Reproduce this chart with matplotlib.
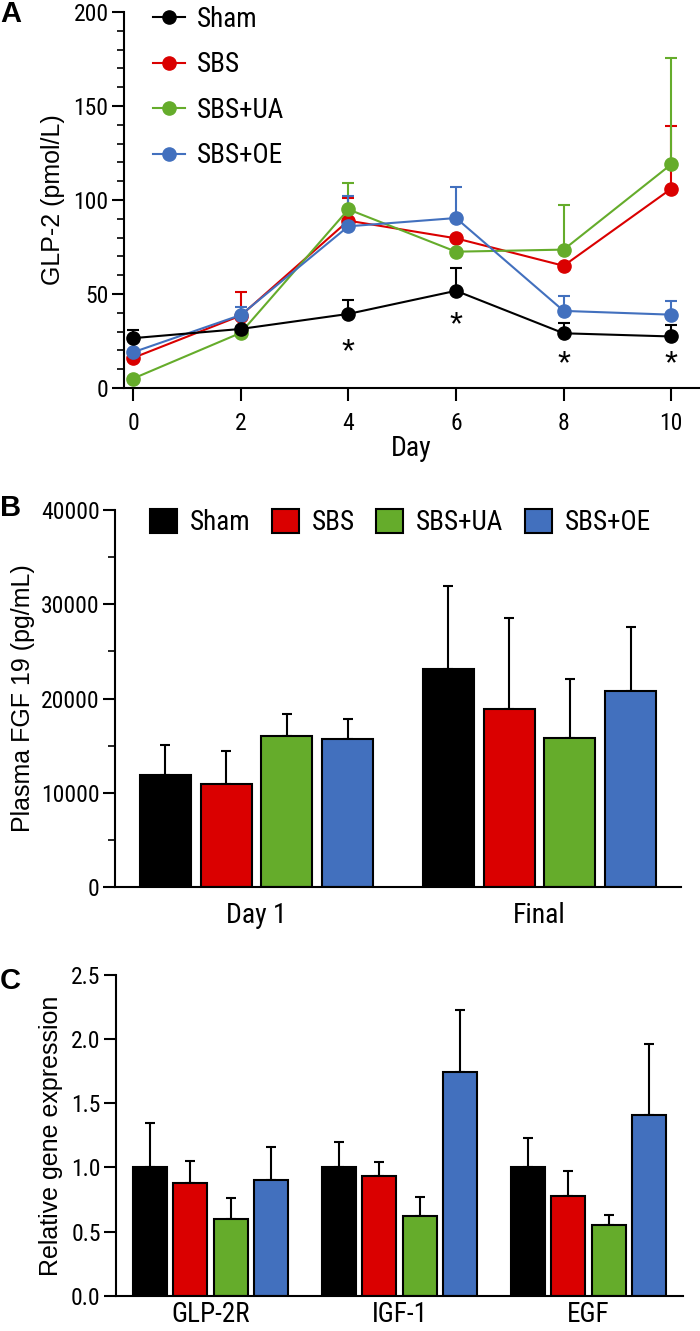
import matplotlib
matplotlib.use("Agg")
import matplotlib.pyplot as plt
import matplotlib.transforms as mtransforms
import numpy as np
from matplotlib.ticker import MultipleLocator, FormatStrFormatter

# ---- data ----
groups = ["Sham", "SBS", "SBS+UA", "SBS+OE"]
colors = ["#000000", "#DA0000", "#65AC2B", "#4270BE"]

days = [0, 2, 4, 6, 8, 10]
glp2_mean = {
    "Sham":   [26.5, 31.4, 39.4, 51.7, 29.1, 27.4],
    "SBS":    [16.0, 38.5, 89.0, 79.6, 65.0, 106.0],
    "SBS+UA": [5.0, 29.3, 95.0, 72.5, 73.6, 119.0],
    "SBS+OE": [19.0, 38.8, 86.0, 90.4, 41.0, 39.0],
}
glp2_err = {
    "Sham":   [4.4, 0.0, 7.6, 12.3, 5.7, 6.1],
    "SBS":    [0.0, 12.3, 12.0, 0.0, 0.0, 33.6],
    "SBS+UA": [0.0, 0.0, 14.0, 0.0, 23.7, 56.3],
    "SBS+OE": [0.0, 4.1, 16.0, 16.6, 8.0, 7.4],
}
sig_days = [4, 6, 8, 10]
sig_y = [24.5, 38.8, 18.0, 18.0]

fgf_labels = ["Day 1", "Final"]
fgf_mean = {
    "Sham":   [11860, 23150],
    "SBS":    [10970, 18870],
    "SBS+UA": [16000, 15790],
    "SBS+OE": [15720, 20780],
}
fgf_err = {
    "Sham":   [3180, 8820],
    "SBS":    [3470, 9630],
    "SBS+UA": [2400, 6330],
    "SBS+OE": [2120, 6760],
}

gene_labels = ["GLP-2R", "IGF-1", "EGF"]
gene_mean = {
    "Sham":   [1.00, 1.00, 1.00],
    "SBS":    [0.88, 0.93, 0.78],
    "SBS+UA": [0.60, 0.62, 0.55],
    "SBS+OE": [0.90, 1.74, 1.41],
}
gene_err = {
    "Sham":   [0.35, 0.20, 0.23],
    "SBS":    [0.17, 0.11, 0.19],
    "SBS+UA": [0.16, 0.15, 0.08],
    "SBS+OE": [0.26, 0.49, 0.55],
}

NARROW = ["Roboto Condensed", "DejaVu Sans"]
ARIAL = ["Liberation Sans", "DejaVu Sans"]
plt.rcParams["font.family"] = NARROW
plt.rcParams["axes.linewidth"] = 1.5

fig = plt.figure(figsize=(7.0, 13.31), dpi=100)


def style_axes(ax):
    for s in ("top", "right"):
        ax.spines[s].set_visible(False)
    ax.tick_params(axis="y", which="major", direction="out", length=9, width=1.5,
                   pad=2, labelsize=17)
    ax.tick_params(axis="y", which="minor", direction="out", length=5, width=1.2)


# ---- panel A ----
axA = fig.add_axes([0.177, 0.7085, 0.822, 0.2825])
for g, c in zip(groups[1:] + groups[:1], colors[1:] + colors[:1]):
    m = np.array(glp2_mean[g])
    e = np.array(glp2_err[g])
    axA.errorbar(days, m, yerr=[np.zeros_like(e), e], color=c, lw=1.5,
                 marker="o", ms=9.5, capsize=4, elinewidth=1.5, capthick=1.5,
                 label=g, zorder=3)
star_tr = mtransforms.offset_copy(axA.transData, fig=fig, x=0, y=-14, units="points")
for d, yv in zip(sig_days, sig_y):
    axA.text(d, yv, "*", ha="center", va="baseline", fontsize=24, family=ARIAL,
             transform=star_tr)
axA.set_xlim(-0.17, 10.52)
axA.set_ylim(0, 200)
axA.set_xticks(days)
axA.yaxis.set_major_locator(MultipleLocator(50))
axA.yaxis.set_minor_locator(MultipleLocator(10))
style_axes(axA)
axA.tick_params(axis="x", direction="out", length=9, width=1.5, pad=8, labelsize=17)
axA.set_xlabel("Day", fontsize=20, labelpad=0)
axA.set_ylabel("GLP-2 (pmol/L)", fontsize=18, family=ARIAL, labelpad=6)
handles, labels = axA.get_legend_handles_labels()
order = [labels.index(g) for g in groups]
axA.legend([handles[i][0] for i in order], [labels[i] for i in order],
           loc="upper left", bbox_to_anchor=(0.05, 1.016), frameon=False,
           borderpad=0, borderaxespad=0,
           fontsize=19.5, handlelength=1.2, handletextpad=0.45, labelspacing=0.68)

# ---- bar helper ----
width = 0.18
step = 0.2145


def bar_panel(ax, labels_, means, errs):
    x = np.arange(len(labels_))
    for i, (g, c) in enumerate(zip(groups, colors)):
        xs = x + (i - 1.5) * step
        ax.bar(xs, means[g], width, color=c, edgecolor="black", linewidth=1.5,
               label=g, zorder=2)
        ax.errorbar(xs, means[g], yerr=[np.zeros(len(x)), errs[g]], fmt="none",
                    ecolor="black", elinewidth=1.5, capsize=3.5, capthick=1.5, zorder=1)
    ax.set_xlim(-0.5, len(labels_) - 0.5)
    ax.set_xticks(x)
    ax.set_xticklabels(labels_)


# ---- panel B ----
axB = fig.add_axes([0.1643, 0.3336, 0.8086, 0.2832])
bar_panel(axB, fgf_labels, fgf_mean, fgf_err)
axB.set_ylim(0, 40000)
axB.yaxis.set_major_locator(MultipleLocator(10000))
axB.yaxis.set_minor_locator(MultipleLocator(5000))
style_axes(axB)
axB.tick_params(axis="x", length=0, pad=11, labelsize=20)
axB.set_ylabel("Plasma FGF 19 (pg/mL)", fontsize=18, family=ARIAL, labelpad=4)
axB.legend(loc="upper left", bbox_to_anchor=(0.062, 1.003), ncol=4, frameon=False,
           borderpad=0, borderaxespad=0,
           fontsize=19.5, handlelength=1.0, handleheight=1.0,
           handletextpad=0.48, columnspacing=0.78)

# ---- panel C ----
axC = fig.add_axes([0.1657, 0.0265, 0.81, 0.241])
bar_panel(axC, gene_labels, gene_mean, gene_err)
axC.set_ylim(0, 2.5)
axC.yaxis.set_major_locator(MultipleLocator(0.5))
axC.yaxis.set_major_formatter(FormatStrFormatter("%.1f"))
style_axes(axC)
axC.tick_params(axis="x", length=0, pad=4, labelsize=19.5)
axC.set_ylabel("Relative gene expression", fontsize=18, family=ARIAL, labelpad=6)

# panel letters
fig.text(0.0, 1.0, "A", fontsize=21, fontweight="bold", va="top", family=ARIAL)
fig.text(0.0, 0.6285, "B", fontsize=21, fontweight="bold", va="top", family=ARIAL)
fig.text(0.0, 0.2738, "C", fontsize=21, fontweight="bold", va="top", family=ARIAL)

fig.savefig("out.png", dpi=100)
